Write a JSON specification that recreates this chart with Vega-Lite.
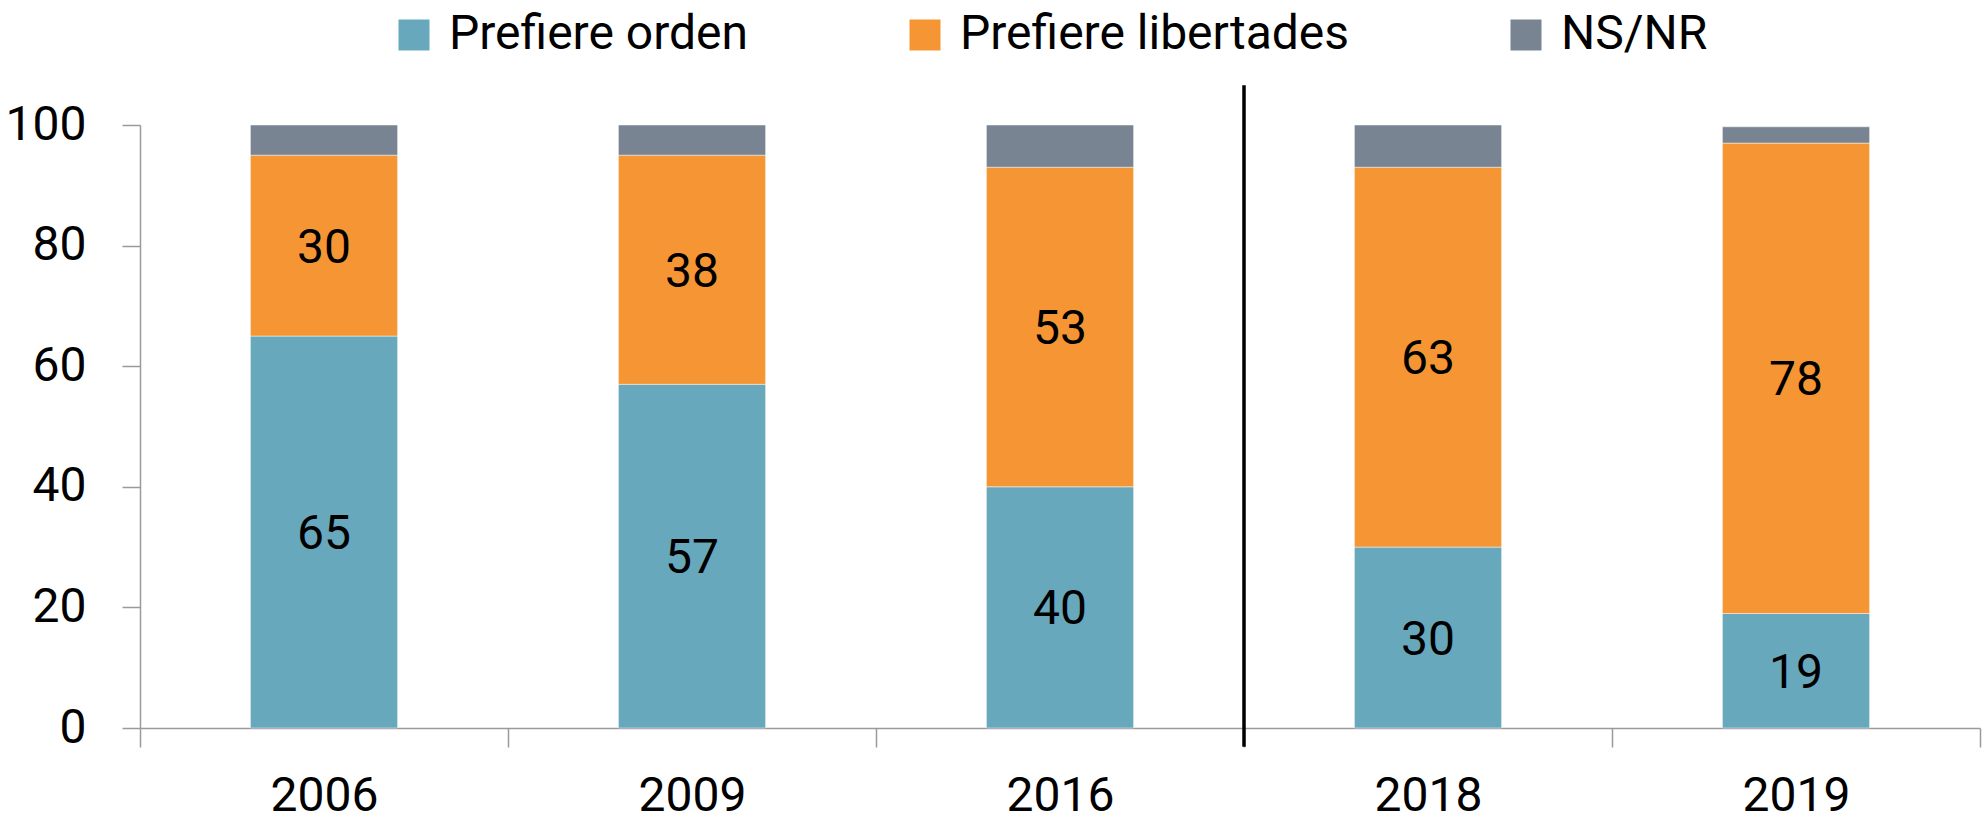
{
  "$schema": "https://vega.github.io/schema/vega-lite/v6.json",
  "autosize": {"type": "none"},
  "padding": {"left": 140, "top": 125, "right": 4, "bottom": 101},
  "width": 1840,
  "height": 603,
  "background": "white",
  "config": {
    "view": {"stroke": null},
    "font": "Roboto",
    "axis": {"labelFont": "Roboto", "labelColor": "black", "domainColor": "#9a9a9a", "tickColor": "#9a9a9a", "domainWidth": 1.5, "tickWidth": 1.5},
    "legend": {"labelFont": "Roboto"}
  },
  "datasets": {
    "bars": [
      {"year": "2006", "cat": "Prefiere orden", "k": 1, "value": 65},
      {"year": "2006", "cat": "Prefiere libertades", "k": 2, "value": 30},
      {"year": "2006", "cat": "NS/NR", "k": 3, "value": 5},
      {"year": "2009", "cat": "Prefiere orden", "k": 1, "value": 57},
      {"year": "2009", "cat": "Prefiere libertades", "k": 2, "value": 38},
      {"year": "2009", "cat": "NS/NR", "k": 3, "value": 5},
      {"year": "2016", "cat": "Prefiere orden", "k": 1, "value": 40},
      {"year": "2016", "cat": "Prefiere libertades", "k": 2, "value": 53},
      {"year": "2016", "cat": "NS/NR", "k": 3, "value": 7},
      {"year": "2018", "cat": "Prefiere orden", "k": 1, "value": 30},
      {"year": "2018", "cat": "Prefiere libertades", "k": 2, "value": 63},
      {"year": "2018", "cat": "NS/NR", "k": 3, "value": 7},
      {"year": "2019", "cat": "Prefiere orden", "k": 1, "value": 19},
      {"year": "2019", "cat": "Prefiere libertades", "k": 2, "value": 78},
      {"year": "2019", "cat": "NS/NR", "k": 3, "value": 2.7}
    ],
    "divider": [{"year": "2018", "lo": -3.1, "hi": 106.6}]
  },
  "encoding": {
    "x": {
      "field": "year", "type": "nominal",
      "scale": {"domain": ["2006", "2009", "2016", "2018", "2019"], "paddingInner": 0, "paddingOuter": 0},
      "axis": {"title": null, "labelAngle": 0, "tickBand": "extent", "tickSize": 19, "labelFontSize": 48, "labelPadding": 25}
    }
  },
  "layer": [
    {
      "data": {"name": "bars"},
      "mark": {"type": "bar", "width": {"band": 0.4}, "stroke": "white", "strokeWidth": 0.8, "strokeOpacity": 0.6},
      "encoding": {
        "y": {
          "field": "value", "type": "quantitative", "stack": "zero",
          "scale": {"domain": [0, 100], "nice": false},
          "axis": {"title": null, "values": [0, 20, 40, 60, 80, 100], "grid": false, "tickSize": 18, "labelFontSize": 48, "labelPadding": 36}
        },
        "order": {"field": "k", "type": "quantitative"},
        "color": {
          "field": "cat", "type": "nominal",
          "scale": {"domain": ["Prefiere orden", "Prefiere libertades", "NS/NR"], "range": ["#67a8bd", "#f69533", "#788492"]},
          "legend": {"title": null, "orient": "none", "direction": "horizontal", "legendX": 250, "legendY": -114, "symbolType": "square", "symbolSize": 961, "symbolStrokeWidth": 0, "labelFontSize": 48, "labelOffset": 11, "columnPadding": 152, "labelLimit": 600}
        }
      }
    },
    {
      "data": {"name": "bars"},
      "transform": [{"filter": "datum.cat != 'NS/NR'"}],
      "mark": {"type": "text", "fontSize": 48, "color": "black", "baseline": "middle", "dy": 3},
      "encoding": {
        "y": {"field": "value", "type": "quantitative", "stack": "zero", "bandPosition": 0.5},
        "order": {"field": "k", "type": "quantitative"},
        "text": {"field": "value", "type": "quantitative"}
      }
    },
    {
      "data": {"name": "divider"},
      "mark": {"type": "rule", "color": "black", "strokeWidth": 3.5},
      "encoding": {
        "x": {"field": "year", "type": "nominal", "bandPosition": 0},
        "y": {"field": "lo", "type": "quantitative"},
        "y2": {"field": "hi"}
      }
    }
  ]
}
